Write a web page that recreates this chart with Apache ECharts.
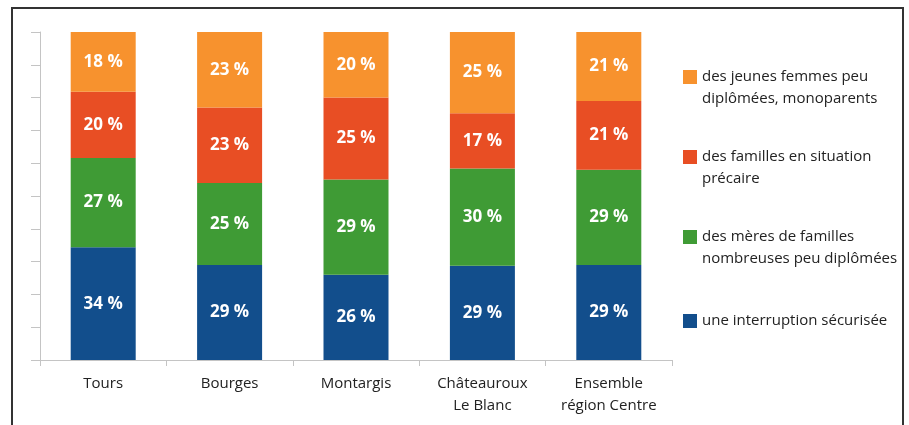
<!DOCTYPE html>
<html>
<head>
<meta charset="utf-8">
<style>
  html, body { margin: 0; padding: 0; background: #fff; }
  #main { width: 909px; height: 425px; }
</style>
<script src="https://cdn.jsdelivr.net/npm/echarts@6/dist/echarts.min.js"></script>
</head>
<body>
<div id="main"></div>
<script>
var myChart = echarts.init(document.getElementById('main'));

// categories (x axis)
var villes = ['Tours', 'Bourges', 'Montargis', 'Châteauroux\nLe Blanc', 'Ensemble\nrégion Centre'];

// values, in %
var interruption = [34, 29, 26, 29, 29];
var meres = [27, 25, 29, 30, 29];
var precaires = [20, 23, 25, 17, 21];
var jeunes = [18, 23, 20, 25, 21];

var noms = [
    'une interruption sécurisée',
    'des mères de familles\nnombreuses peu diplômées',
    'des familles en situation\nprécaire',
    'des jeunes femmes peu\ndiplômées, monoparents'
];
var couleurs = ['#124e8c', '#3f9b35', '#e84e24', '#f7922e'];

var tous = [interruption, meres, precaires, jeunes];

// each bar is drawn as 100 % (the printed values do not always add up to 100)
var totaux = villes.map(function (v, i) {
    return tous.reduce(function (s, arr) { return s + arr[i]; }, 0);
});

var series = tous.map(function (arr, k) {
    return {
        name: noms[k],
        type: 'bar',
        stack: 'total',
        barWidth: 65,
        itemStyle: {color: couleurs[k]},
        label: {
            show: true,
            color: '#fff',
            fontFamily: 'Open Sans',
            fontWeight: 'bold',
            fontSize: 17,
            formatter: function (p) { return arr[p.dataIndex] + ' %'; }
        },
        data: arr.map(function (v, i) { return v / totaux[i] * 100; })
    };
});

// square at the top of the icon box so it lines up with the first text line
var iconHaut = 'path://M0,0L14,0L14,14L0,14Z M0,36L0.01,36Z';

let option = {
    animation: false,
    grid: {left: 40, right: 237, top: 32, bottom: 65},
    xAxis: {
        type: 'category',
        data: villes,
        axisLine: {lineStyle: {color: '#c4c4c4', width: 1}},
        axisTick: {show: true, length: 6, lineStyle: {color: '#c4c4c4'}},
        axisLabel: {
            color: '#222',
            fontFamily: 'Open Sans',
            fontSize: 15,
            lineHeight: 22,
            margin: 13
        }
    },
    yAxis: {
        type: 'value',
        min: 0,
        max: 100,
        interval: 10,
        axisLine: {show: true, lineStyle: {color: '#c4c4c4', width: 1}},
        axisTick: {show: true, inside: false, length: 9, lineStyle: {color: '#c4c4c4'}},
        axisLabel: {show: false},
        splitLine: {show: false}
    },
    legend: [
        {
            orient: 'vertical',
            left: 678,
            top: 61,
            itemWidth: 14,
            itemHeight: 36,
            itemGap: 36,
            icon: iconHaut,
            selectedMode: false,
            textStyle: {color: '#222', fontFamily: 'Open Sans', fontSize: 15, lineHeight: 22},
            data: [noms[3], noms[2], noms[1]]
        },
        {
            orient: 'vertical',
            left: 678,
            top: 305,
            itemWidth: 14,
            itemHeight: 14,
            icon: 'rect',
            selectedMode: false,
            textStyle: {color: '#222', fontFamily: 'Open Sans', fontSize: 15, lineHeight: 22},
            data: [noms[0]]
        }
    ],
    graphic: [
        {
            type: 'rect',
            silent: true,
            shape: {x: 12, y: 8, width: 891, height: 460},
            style: {fill: 'none', stroke: '#333', lineWidth: 2}
        }
    ],
    series: series
};

myChart.setOption(option);
</script>
</body>
</html>
